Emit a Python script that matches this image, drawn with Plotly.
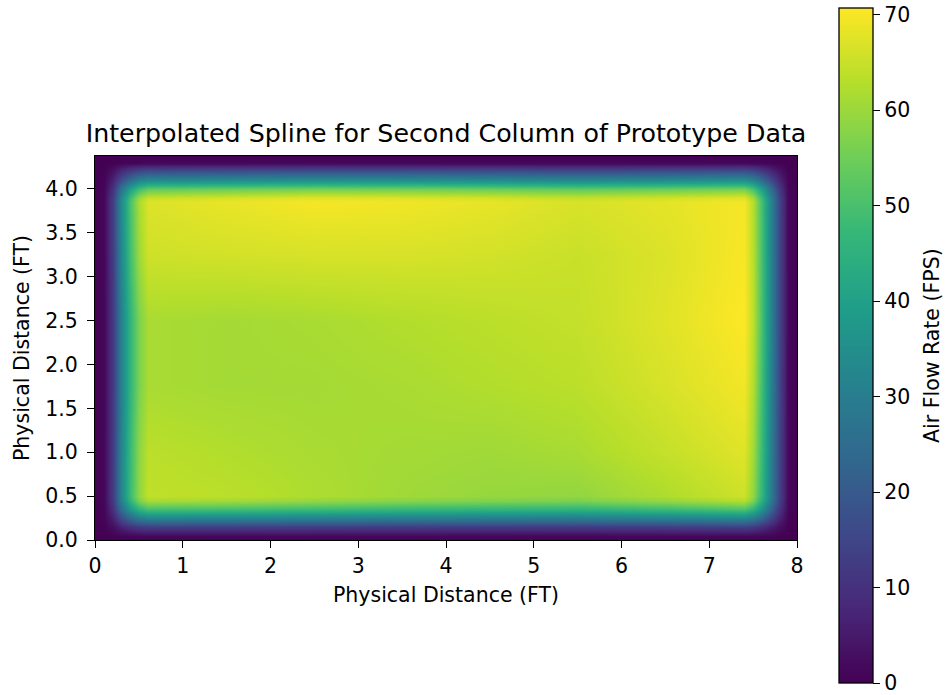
import plotly.graph_objects as go

# Interior readings (FPS) on a coarse grid
interior_x = [0.6, 1.5, 2.5, 3.5, 4.5, 5.5, 6.5, 7.4]
interior_y = [0.5, 1.0, 1.75, 2.5, 3.25, 3.85]
interior_z = [
    [64.0, 63.5, 62.0, 60.5, 59.5, 59.0, 62.0, 65.5],
    [63.5, 62.5, 61.5, 61.0, 60.5, 61.5, 64.5, 67.5],
    [61.5, 61.0, 61.0, 61.5, 62.5, 63.5, 66.5, 69.5],
    [61.5, 61.0, 61.5, 62.5, 63.5, 64.5, 67.5, 70.7],
    [65.5, 66.0, 66.5, 66.5, 66.0, 65.0, 67.0, 70.2],
    [67.0, 68.5, 69.8, 69.3, 68.3, 66.5, 68.0, 69.8],
]

# Edge fall-off (fraction of adjacent interior value)
left_x = [0.0, 0.1, 0.2, 0.3, 0.4, 0.5]
left_f = [0.0, 0.02, 0.2, 0.5, 0.75, 0.92]
right_x = [7.5, 7.6, 7.7, 7.8, 7.9, 8.0]
right_f = [0.9, 0.7, 0.45, 0.22, 0.02, 0.0]
bottom_y = [0.0, 0.05, 0.15, 0.25, 0.35, 0.45]
bottom_f = [0.0, 0.02, 0.2, 0.5, 0.78, 0.95]
top_y = [3.9, 4.0, 4.1, 4.2, 4.3, 4.375]
top_f = [0.97, 0.8, 0.5, 0.25, 0.02, 0.0]

x_ticks = [0, 1, 2, 3, 4, 5, 6, 7, 8]
y_ticks = [0.0, 0.5, 1.0, 1.5, 2.0, 2.5, 3.0, 3.5, 4.0]
cb_ticks = [0, 10, 20, 30, 40, 50, 60, 70]

# Build table
xs = left_x + interior_x + right_x
fx = left_f + [1.0] * len(interior_x) + right_f
cidx = [0] * len(left_x) + list(range(len(interior_x))) + [len(interior_x) - 1] * len(right_x)
ys = bottom_y + interior_y + top_y
fy = bottom_f + [1.0] * len(interior_y) + top_f
ridx = [0] * len(bottom_y) + list(range(len(interior_y))) + [len(interior_y) - 1] * len(top_y)
z = [[interior_z[ridx[i]][cidx[j]] * fy[i] * fx[j] for j in range(len(xs))] for i in range(len(ys))]

FONT = "DejaVu Sans"
FS = 20.5
W, H = 945, 695
L, R, T, B = 95, 148, 156, 155
pw = W - L - R
ph = H - T - B

fig = go.Figure(go.Heatmap(
    x=xs, y=ys, z=z, zsmooth="best", colorscale="Viridis",
    zmin=0, zmax=70.7,
    colorbar=dict(
        x=(839 - L) / pw, xanchor="left", xpad=0,
        y=(H - B - 8) / ph, yanchor="top", ypad=0,
        lenmode="pixels", len=675,
        thickness=34, thicknessmode="pixels",
        outlinewidth=1.3, outlinecolor="black",
        ticks="outside", ticklen=7, tickwidth=1.3, tickcolor="black",
        tickvals=cb_ticks, ticklabeloverflow="allow",
        tickfont=dict(family=FONT, size=FS, color="black"),
    ),
))

axis_common = dict(
    showgrid=False, zeroline=False, showline=True, linecolor="black",
    linewidth=1.3, mirror=True, ticks="outside", ticklen=7, tickwidth=1.3,
    tickcolor="black", tickfont=dict(family=FONT, size=FS, color="black"),
)
fig.update_xaxes(range=[0, 8], tickvals=x_ticks,
                 title=dict(text="Physical Distance (FT)", standoff=10,
                            font=dict(family=FONT, size=FS, color="black")),
                 **axis_common)
fig.update_yaxes(range=[0, 4.375], tickvals=y_ticks, tickformat=".1f",
                 ticklabelstandoff=5,
                 title=dict(text="Physical Distance (FT)", standoff=9,
                            font=dict(family=FONT, size=FS, color="black")),
                 **axis_common)

fig.add_annotation(
    text="Air Flow Rate (FPS)", textangle=-90,
    xref="paper", yref="paper",
    x=(932 - L) / pw, y=(H - B - 346) / ph,
    xanchor="center", yanchor="middle", showarrow=False,
    font=dict(family=FONT, size=FS, color="black"),
)

fig.update_layout(
    width=W, height=H,
    margin=dict(l=L, r=R, t=T, b=B, autoexpand=False),
    paper_bgcolor="white", plot_bgcolor="white",
    title=dict(text="Interpolated Spline for Second Column of Prototype Data",
               x=(L + pw / 2) / W, xanchor="center",
               y=1 - 133 / H, yanchor="middle", yref="container",
               font=dict(family=FONT, size=25.3, color="black")),
)

fig.write_html("out.html")
